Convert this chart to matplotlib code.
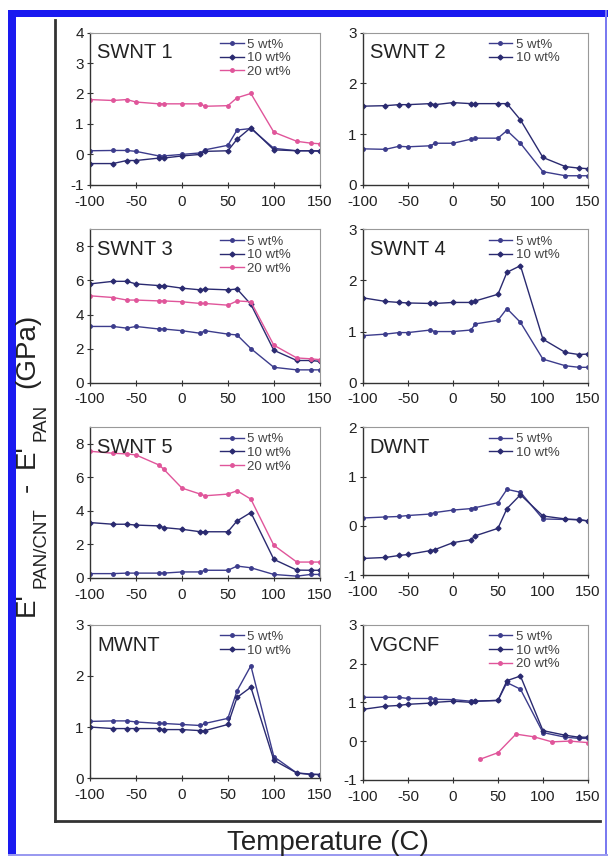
import matplotlib
matplotlib.use("Agg")
from matplotlib import pyplot as plt
from matplotlib.patches import Rectangle
from matplotlib.lines import Line2D

plt.rcParams['font.family'] = ['Liberation Sans', 'DejaVu Sans']
plt.rcParams['axes.unicode_minus'] = False

temps = [-100, -75, -60, -50, -25, -20, 0, 20, 25, 50, 60, 75, 100, 125, 140, 150]

swnt1_5 = [0.12, 0.13, 0.13, 0.10, -0.05, -0.05, 0.0, 0.05, 0.15, 0.30, 0.80, 0.85, 0.20, 0.12, 0.12, 0.10]
swnt1_10 = [-0.30, -0.30, -0.20, -0.20, -0.12, -0.12, -0.05, 0.0, 0.10, 0.12, 0.50, 0.88, 0.15, 0.12, 0.12, 0.12]
swnt1_20 = [1.80, 1.77, 1.80, 1.72, 1.66, 1.66, 1.66, 1.66, 1.58, 1.60, 1.86, 2.00, 0.73, 0.43, 0.37, 0.35]

swnt2_5 = [0.71, 0.70, 0.76, 0.75, 0.77, 0.82, 0.82, 0.90, 0.92, 0.92, 1.07, 0.82, 0.26, 0.18, 0.18, 0.18]
swnt2_10 = [1.55, 1.56, 1.58, 1.58, 1.60, 1.58, 1.62, 1.60, 1.60, 1.60, 1.60, 1.28, 0.54, 0.36, 0.33, 0.32]

swnt3_5 = [3.30, 3.30, 3.20, 3.30, 3.15, 3.15, 3.05, 2.90, 3.05, 2.85, 2.80, 2.00, 0.90, 0.75, 0.75, 0.75]
swnt3_10 = [5.80, 5.95, 5.95, 5.80, 5.70, 5.70, 5.55, 5.45, 5.50, 5.45, 5.50, 4.60, 1.90, 1.30, 1.30, 1.25]
swnt3_20 = [5.10, 5.00, 4.85, 4.85, 4.80, 4.80, 4.75, 4.65, 4.65, 4.55, 4.80, 4.75, 2.20, 1.45, 1.40, 1.35]

swnt4_5 = [0.92, 0.95, 0.98, 0.98, 1.03, 1.00, 1.00, 1.03, 1.15, 1.22, 1.45, 1.18, 0.46, 0.33, 0.30, 0.30]
swnt4_10 = [1.66, 1.59, 1.57, 1.56, 1.55, 1.55, 1.57, 1.57, 1.60, 1.73, 2.16, 2.29, 0.85, 0.59, 0.55, 0.56]

swnt5_5 = [0.25, 0.25, 0.28, 0.28, 0.28, 0.28, 0.35, 0.35, 0.45, 0.45, 0.70, 0.60, 0.20, 0.10, 0.20, 0.20]
swnt5_10 = [3.30, 3.20, 3.20, 3.15, 3.10, 3.00, 2.90, 2.75, 2.75, 2.75, 3.40, 3.90, 1.10, 0.46, 0.45, 0.45]
swnt5_20 = [7.56, 7.44, 7.40, 7.34, 6.74, 6.50, 5.36, 5.00, 4.90, 5.00, 5.20, 4.70, 1.94, 0.94, 0.94, 0.94]

dwnt_5 = [0.16, 0.18, 0.19, 0.21, 0.24, 0.27, 0.32, 0.35, 0.37, 0.47, 0.74, 0.68, 0.14, 0.13, 0.13, 0.10]
dwnt_10 = [-0.66, -0.64, -0.60, -0.58, -0.50, -0.48, -0.34, -0.28, -0.20, -0.05, 0.35, 0.63, 0.20, 0.14, 0.12, 0.10]

mwnt_5 = [1.11, 1.12, 1.12, 1.10, 1.07, 1.07, 1.05, 1.03, 1.07, 1.17, 1.71, 2.20, 0.42, 0.10, 0.08, 0.07]
mwnt_10 = [1.00, 0.97, 0.97, 0.97, 0.97, 0.95, 0.95, 0.93, 0.93, 1.05, 1.58, 1.78, 0.35, 0.10, 0.07, 0.07]

vgcnf_5 = [1.13, 1.13, 1.13, 1.10, 1.10, 1.08, 1.07, 1.03, 1.03, 1.05, 1.51, 1.34, 0.22, 0.10, 0.07, 0.07]
vgcnf_10 = [0.82, 0.90, 0.92, 0.95, 0.98, 1.00, 1.03, 1.00, 1.03, 1.05, 1.56, 1.68, 0.27, 0.15, 0.10, 0.10]
vgcnf_20_t = [30, 50, 70, 90, 110, 130, 150]
vgcnf_20 = [-0.47, -0.30, 0.18, 0.11, -0.02, 0.00, -0.04]

navy = '#3c3c8c'
navy2 = '#2a2a70'
pink = '#e0559a'

# (name, rect, ylim, yticks, series)
panels = [
    ("SWNT 1", [0.148, 0.784, 0.378, 0.178], (-1, 4), [-1, 0, 1, 2, 3, 4],
     [(temps, swnt1_5, navy, 'o', "5 wt%"), (temps, swnt1_10, navy2, 'D', "10 wt%"),
      (temps, swnt1_20, pink, 'o', "20 wt%")]),
    ("SWNT 2", [0.597, 0.784, 0.370, 0.178], (0, 3), [0, 1, 2, 3],
     [(temps, swnt2_5, navy, 'o', "5 wt%"), (temps, swnt2_10, navy2, 'D', "10 wt%")]),
    ("SWNT 3", [0.148, 0.553, 0.378, 0.179], (0, 9), [0, 2, 4, 6, 8],
     [(temps, swnt3_5, navy, 'o', "5 wt%"), (temps, swnt3_10, navy2, 'D', "10 wt%"),
      (temps, swnt3_20, pink, 'o', "20 wt%")]),
    ("SWNT 4", [0.597, 0.553, 0.370, 0.179], (0, 3), [0, 1, 2, 3],
     [(temps, swnt4_5, navy, 'o', "5 wt%"), (temps, swnt4_10, navy2, 'D', "10 wt%")]),
    ("SWNT 5", [0.148, 0.325, 0.378, 0.176], (0, 9), [0, 2, 4, 6, 8],
     [(temps, swnt5_5, navy, 'o', "5 wt%"), (temps, swnt5_10, navy2, 'D', "10 wt%"),
      (temps, swnt5_20, pink, 'o', "20 wt%")]),
    ("DWNT", [0.597, 0.328, 0.370, 0.173], (-1, 2), [-1, 0, 1, 2],
     [(temps, dwnt_5, navy, 'o', "5 wt%"), (temps, dwnt_10, navy2, 'D', "10 wt%")]),
    ("MWNT", [0.148, 0.091, 0.378, 0.179], (0, 3), [0, 1, 2, 3],
     [(temps, mwnt_5, navy, 'o', "5 wt%"), (temps, mwnt_10, navy2, 'D', "10 wt%")]),
    ("VGCNF", [0.597, 0.089, 0.370, 0.181], (-1, 3), [-1, 0, 1, 2, 3],
     [(temps, vgcnf_5, navy, 'o', "5 wt%"), (temps, vgcnf_10, navy2, 'D', "10 wt%"),
      (vgcnf_20_t, vgcnf_20, pink, 'o', "20 wt%")]),
]

# pieces of the rotated y label, read bottom to top: (text, x px, font size, gap px after)
ylabel_parts = [
    ("E'", 27, 20, 4),
    ("PAN/CNT", 41, 13.5, 15),
    ("-", 27, 20, 15),
    ("E'", 27, 20, 4),
    ("PAN", 41, 13.5, 15),
    ("(GPa)", 27, 20, 0),
]


def draw_panel(fig, name, rect, ylim, yticks, series):
    ax = fig.add_axes(rect)
    for x, y, color, marker, label in series:
        ax.plot(x, y, color=color, lw=1.0, marker=marker, ms=2.5, label=label)
    ax.set_xlim(-100, 150)
    ax.set_ylim(*ylim)
    ax.set_xticks([-100, -50, 0, 50, 100, 150])
    ax.set_yticks(yticks)
    for side in ('top', 'right'):
        ax.spines[side].set_color('#999999')
        ax.spines[side].set_linewidth(0.8)
    for side in ('left', 'bottom'):
        ax.spines[side].set_color('#333333')
        ax.spines[side].set_linewidth(1.0)
    ax.tick_params(direction='inout', length=4, width=0.8, labelsize=11,
                   colors='#333333', labelcolor='#222222')
    ax.tick_params(axis='x', pad=5)
    ax.tick_params(axis='y', pad=2.5)
    ax.text(0.03, 0.93, name, transform=ax.transAxes, fontsize=14.5,
            color='#222222', va='top', ha='left')
    ax.legend(loc='upper right', bbox_to_anchor=(0.92, 1.03), frameon=False,
              fontsize=9.5, handlelength=1.8, handletextpad=0.25, labelspacing=0.1,
              borderpad=0.3, labelcolor='#444444')
    return ax


fig = plt.figure(figsize=(6.08, 8.56), dpi=100)

for name, rect, ylim, yticks, series in panels:
    draw_panel(fig, name, rect, ylim, yticks, series)

# outer frame of the figure group
fig.add_artist(Line2D([55 / 608, 55 / 608], [1 - 20 / 856, 1 - 821 / 856],
                      transform=fig.transFigure, color='#333333', lw=2))
fig.add_artist(Line2D([55 / 608, 600 / 608], [1 - 821 / 856, 1 - 821 / 856],
                      transform=fig.transFigure, color='#333333', lw=2))

# stack the y label pieces upward from the bottom of the label
renderer = fig.canvas.get_renderer()
y_px = 616
for txt, xp, fs, gap in ylabel_parts:
    t = fig.text(xp / 608, 1 - y_px / 856, txt, rotation=90, ha='center', va='bottom',
                 fontsize=fs, color='#222222')
    h = t.get_window_extent(renderer).height
    y_px -= h + gap

fig.text(328 / 608, 1 - 843 / 856, "Temperature (C)", ha='center', va='center',
         fontsize=20, color='#222222')

# blue border
fig.add_artist(Rectangle((8 / 608, 0), 8 / 608, 1 - 10 / 856, transform=fig.transFigure,
                         facecolor='#1a1af0', edgecolor='none'))
fig.add_artist(Rectangle((8 / 608, 1 - 17 / 856), 1 - 8 / 608, 7 / 856, transform=fig.transFigure,
                         facecolor='#1a1af0', edgecolor='none'))
fig.add_artist(Rectangle((605 / 608, 0), 2 / 608, 1 - 10 / 856, transform=fig.transFigure,
                         facecolor='#7a7af0', edgecolor='none'))
fig.add_artist(Rectangle((8 / 608, 0), 1 - 8 / 608, 2 / 856, transform=fig.transFigure,
                         facecolor='#9a9af0', edgecolor='none'))

fig.savefig("out.png", dpi=100)
